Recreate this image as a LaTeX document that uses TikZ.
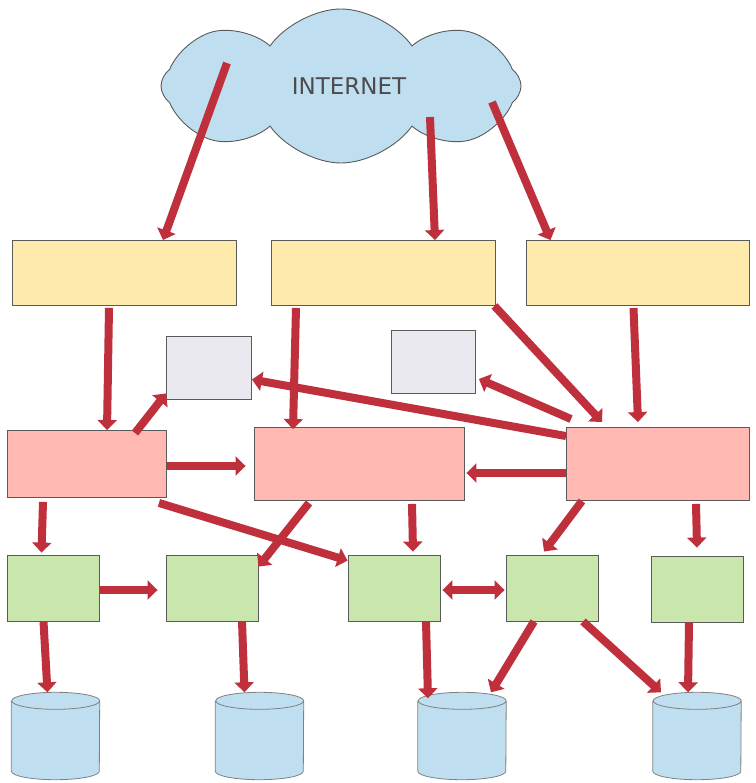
\documentclass[tikz,border=0pt]{standalone}
\usepackage{fontspec}
\newfontfamily\netfont{DejaVu Sans}
\usetikzlibrary{positioning}
\usetikzlibrary{arrows.meta,shapes.symbols}
\definecolor{arred}{RGB}{192,48,60}
\definecolor{boxline}{RGB}{90,90,90}
\definecolor{webyellow}{RGB}{254,234,170}
\definecolor{apppink}{RGB}{255,184,178}
\definecolor{svcgreen}{RGB}{201,231,173}
\definecolor{dbblue}{RGB}{191,223,240}
\definecolor{speckle}{RGB}{234,233,239}

\begin{document}
\begin{tikzpicture}[x=1pt, y=-1pt,
  main/.style={rectangle, draw=boxline, line width=0.9pt, inner sep=0pt},
  web/.style={main, fill=webyellow, minimum width=224pt, minimum height=65pt},
  cache/.style={main, fill=speckle, minimum width=85pt, minimum height=63pt},
  app/.style={main, fill=apppink, minimum height=70pt},
  svc/.style={main, fill=svcgreen, minimum width=92pt, minimum height=66pt},
  db/.style={rectangle, minimum width=88pt, minimum height=87pt, inner sep=0pt},
  dbline/.style={draw=gray, line width=0.8pt, fill=dbblue},
  ar/.style={draw=arred, line width=8pt, -{Triangle[length=10pt,width=19pt]}}]
  \fill[white] (0,0) rectangle (755,783);
  \useasboundingbox (0,0) rectangle (755,783);

  % internet
  \node[cloud, cloud puffs=8, cloud puff arc=110, aspect=2.34, draw=boxline, line width=0.9pt, fill=dbblue, minimum width=360pt, minimum height=154pt, text=black!70, font=\netfont\fontsize{23}{23}\selectfont] (net) at (341,86) {\hspace*{16pt}INTERNET};

  % web tier
  \node[web] (y1) at (124,273) {};
  \node[web] (y2) at (383,273) {};
  \node[web, minimum width=223pt] (y3) at (637.5,273) {};
  \node[cache] (s1) at (209,367.5) {};
  \node[cache, minimum width=84pt] (s2) at (433.5,362) {};

  % app tier
  \node[app, minimum width=159pt, minimum height=67pt] (p1) at (87,464) {};
  \node[app, minimum width=210pt, minimum height=73pt] (p2) at (359,464) {};
  \node[app, minimum width=183pt, minimum height=73pt] (p3) at (658,464) {};

  % services
  \node[svc] (g1) at (53.5,588) {};
  \node[svc] (g2) at (212,588) {};
  \node[svc] (g3) at (394,588) {};
  \node[svc] (g4) at (552,588) {};
  \node[svc] (g5) at (697,589) {};

  % storage
  \node[db] (d1) at (55.5,736) {};
  \node[db] (d2) at (259.5,736) {};
  \node[db] (d3) at (462,736) {};
  \node[db] (d4) at (697,736) {};
  \draw[dbline] ([yshift=-8.5pt]d1.north west) -- ([yshift=8.5pt]d1.south west) arc[start angle=180, end angle=360, x radius=44pt, y radius=8.5pt] -- ([yshift=-8.5pt]d1.north east) arc[start angle=0, end angle=180, x radius=44pt, y radius=8.5pt] arc[start angle=180, end angle=360, x radius=44pt, y radius=8.5pt];
  \draw[dbline] ([yshift=-8.5pt]d2.north west) -- ([yshift=8.5pt]d2.south west) arc[start angle=180, end angle=360, x radius=44pt, y radius=8.5pt] -- ([yshift=-8.5pt]d2.north east) arc[start angle=0, end angle=180, x radius=44pt, y radius=8.5pt] arc[start angle=180, end angle=360, x radius=44pt, y radius=8.5pt];
  \draw[dbline] ([yshift=-8.5pt]d3.north west) -- ([yshift=8.5pt]d3.south west) arc[start angle=180, end angle=360, x radius=44pt, y radius=8.5pt] -- ([yshift=-8.5pt]d3.north east) arc[start angle=0, end angle=180, x radius=44pt, y radius=8.5pt] arc[start angle=180, end angle=360, x radius=44pt, y radius=8.5pt];
  \draw[dbline] ([yshift=-8.5pt]d4.north west) -- ([yshift=8.5pt]d4.south west) arc[start angle=180, end angle=360, x radius=44pt, y radius=8.5pt] -- ([yshift=-8.5pt]d4.north east) arc[start angle=0, end angle=180, x radius=44pt, y radius=8.5pt] arc[start angle=180, end angle=360, x radius=44pt, y radius=8.5pt];

  \draw[ar] ([xshift=-114pt,yshift=23pt]net.center) -- ([xshift=39pt]y1.north);
  \draw[ar] ([xshift=89pt,yshift=-31pt]net.center) -- ([xshift=52pt]y2.north);
  \draw[ar] ([xshift=151pt,yshift=-16pt]net.center) -- ([xshift=-87pt]y3.north);

  \draw[ar] ([xshift=-15pt,yshift=-2pt]y1.south) -- ([xshift=20pt]p1.north);
  \draw[ar] ([xshift=-87pt,yshift=-2pt]y2.south) -- ([xshift=-66pt,yshift=-2pt]p2.north);
  \draw[ar] ([xshift=-1pt]y2.south east) -- ([xshift=36pt,yshift=5pt]p3.north west);
  \draw[ar] ([xshift=-4pt,yshift=-2pt]y3.south) -- ([xshift=-20pt,yshift=5pt]p3.north);

  \draw[ar] ([xshift=48pt,yshift=-3pt]p1.north) -- ([yshift=6pt]s1.south west);
  \draw[ar] ([yshift=-9pt]p3.north west) -- ([yshift=-12pt]s1.east);
  \draw[ar] ([xshift=5pt,yshift=8pt]p3.north west) -- ([xshift=3pt,yshift=-17pt]s2.east);
  \draw[ar] ([yshift=-2pt]p1.east) -- ([xshift=-8pt,yshift=-2pt]p2.west);
  \draw[ar] ([yshift=-9pt]p3.west) -- ([xshift=2pt,yshift=-9pt]p2.east);

  \draw[ar] ([xshift=-8pt,yshift=-5pt]p1.south east) -- ([yshift=-6pt]g3.north west);
  \draw[ar] ([xshift=-44pt,yshift=-4pt]p1.south) -- ([xshift=-12pt,yshift=2pt]g1.north);
  \draw[ar] ([xshift=-50pt,yshift=-2pt]p2.south) -- ([yshift=-12pt]g2.north east);
  \draw[ar] ([xshift=53pt,yshift=-3pt]p2.south) -- ([xshift=19pt,yshift=3pt]g3.north);
  \draw[ar] ([xshift=-76pt]p3.south) -- ([xshift=-8pt,yshift=3pt]g4.north);
  \draw[ar] ([xshift=38pt,yshift=-3pt]p3.south) -- ([yshift=8pt]g5.north);

  \draw[ar] ([yshift=-2pt]g1.east) -- ([xshift=-8pt,yshift=-2pt]g2.west);
  \draw[ar, {Triangle[length=10pt,width=19pt]}-{Triangle[length=10pt,width=19pt]}] ([xshift=2pt,yshift=-2pt]g3.east) -- ([xshift=-1pt,yshift=-2pt]g4.west);

  \draw[ar] ([xshift=-10pt]g1.south) -- ([xshift=-8pt]d1.north);
  \draw[ar] ([xshift=30pt]g2.south) -- ([xshift=-15pt]d2.north);
  \draw[ar] ([xshift=32pt]g3.south) -- ([xshift=-34pt,yshift=-6pt]d3.north);
  \draw[ar] ([xshift=-18pt]g4.south) -- ([xshift=29pt]d3.north);
  \draw[ar] ([xshift=31pt]g4.south) -- ([xshift=-36pt]d4.north);
  \draw[ar] ([xshift=-8pt]g5.south) -- ([xshift=-9pt]d4.north);
\end{tikzpicture}
\end{document}
